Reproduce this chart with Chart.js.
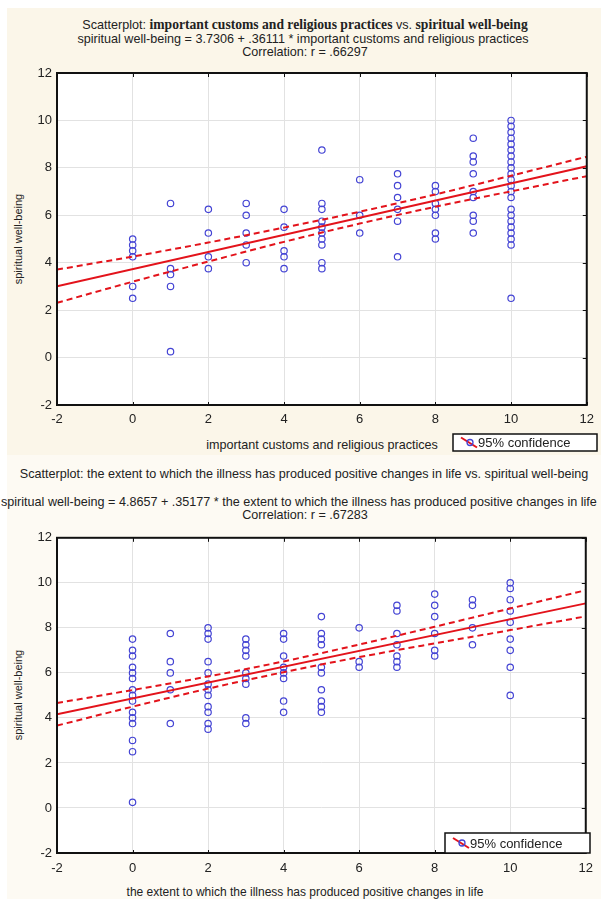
<!DOCTYPE html>
<html>
<head>
<meta charset="utf-8">
<script src="https://cdn.jsdelivr.net/npm/chart.js@4"></script>
<style>
  body { margin: 0; background: #fff; }
  #page { position: relative; width: 601px; height: 899px; overflow: hidden; }
  .bg { position: absolute; }
  .t { position: absolute; transform: translate(-50%, -50%); white-space: nowrap;
       font: 12.6px "Liberation Sans", Arial, sans-serif; color: #222; }
  .b { font-family: "Liberation Serif", "Times New Roman", serif; font-weight: bold; font-size: 13.6px; }
  .yt { transform: translate(-50%, -50%) rotate(-90deg); font-size: 11px; }
  canvas { position: absolute; left: 0; }
</style>
</head>
<body>
<div id="page">
  <div class="bg" style="left:7px;top:8px;width:594px;height:447px;background:#fbf6e9"></div>
  <div class="bg" style="left:7px;top:455px;width:594px;height:444px;background:#fdfaf3"></div>

  <div class="t" style="left:305px;top:25px">Scatterplot: <span class="b">important customs and religious practices</span> vs. <span class="b">spiritual well-being</span></div>
  <div class="t" style="left:303px;top:39px">spiritual well-being = 3.7306 + .36111 * important customs and religious practices</div>
  <div class="t" style="left:305px;top:52px">Correlation: r = .66297</div>
  <div class="t yt" style="left:18px;top:239px">spiritual well-being</div>
  <div class="t" style="left:322px;top:445px">important customs and religious practices</div>

  <div class="t" style="left:304px;top:474px">Scatterplot: the extent to which the illness has produced positive changes in life vs. spiritual well-being</div>
  <div class="t" style="left:1px;top:502px;transform:translate(0,-50%)">spiritual well-being = 4.8657 + .35177 * the extent to which the illness has produced positive changes in life</div>
  <div class="t" style="left:305px;top:515px">Correlation: r = .67283</div>
  <div class="t yt" style="left:18px;top:695px">spiritual well-being</div>
  <div class="t" style="left:305px;top:892px;font-size:12px">the extent to which the illness has produced positive changes in life</div>

  <canvas id="topChart" width="601" height="395" style="top:60px"></canvas>
  <canvas id="bottomChart" width="601" height="360" style="top:525px"></canvas>
</div>

<script>
// --- Data: important customs and religious practices ---
const topColumns = [0, 1, 2, 3, 4, 5, 6, 7, 8, 9, 10];
const topValues = [
  [5, 4.75, 4.5, 4.25, 3, 2.5],
  [6.5, 3.75, 3.5, 3, 0.25],
  [6.25, 5.25, 4.25, 3.75],
  [6.5, 6, 5.25, 4.75, 4],
  [6.25, 5.5, 4.5, 4.25, 3.75],
  [8.75, 6.5, 6.25, 5.75, 5.5, 5.25, 5, 4.75, 4, 3.75],
  [7.5, 6, 5.25],
  [7.75, 7.25, 6.75, 6.25, 5.75, 4.25],
  [7.25, 7, 6.5, 6.25, 6, 5.25, 5],
  [9.25, 8.5, 8.25, 7.75, 7, 6.75, 6, 5.75, 5.25],
  [10, 9.75, 9.5, 9.25, 9, 8.75, 8.5, 8.25, 8, 7.75, 7.5, 7.25, 7, 6.75, 6.25, 6, 5.75, 5.5, 5.25, 5, 4.75, 2.5]
];
const topFitX = [-2, 12];
const topFitY = [3.0084, 8.0638];
const topBandX = [-2, 0, 2, 4, 6, 8, 10, 12];
const topBandUpper = [3.71, 4.26, 4.85, 5.48, 6.15, 6.88, 7.67, 8.47];
const topBandLower = [2.31, 3.20, 4.05, 4.88, 5.65, 6.36, 7.01, 7.65];

// --- Data: illness produced positive changes in life ---
const bottomColumns = [0, 1, 2, 3, 4, 5, 6, 7, 8, 9, 10];
const bottomValues = [
  [7.5, 7, 6.75, 6.25, 6, 5.75, 5.25, 5, 4.75, 4.25, 4, 3.75, 3, 2.5, 0.25],
  [7.75, 6.5, 6, 5.25, 3.75],
  [8, 7.75, 7.5, 6.5, 6, 5.5, 5.25, 5, 4.5, 4.25, 3.75, 3.5],
  [7.5, 7.25, 7, 6.75, 6, 5.75, 5.5, 4, 3.75],
  [7.75, 7.5, 6.75, 6.25, 6, 5.75, 4.75, 4.25],
  [8.5, 7.75, 7.5, 7.25, 6.25, 6, 5.25, 4.75, 4.5, 4.25],
  [8, 6.5, 6.25],
  [9, 8.75, 7.75, 7.25, 6.75, 6.5, 6.25],
  [9.5, 9, 8.5, 7.75, 7, 6.75],
  [9.25, 9, 8, 7.25],
  [10, 9.75, 9.25, 8.75, 8.25, 7.5, 7, 6.25, 5]
];
const bottomFitX = [-2, 12];
const bottomFitY = [4.1622, 9.0870];
const bottomBandX = [-2, 0, 2, 4, 6, 8, 10, 12];
const bottomBandUpper = [4.66, 5.24, 5.84, 6.51, 7.26, 8.05, 8.86, 9.67];
const bottomBandLower = [3.66, 4.50, 5.30, 6.03, 6.70, 7.31, 7.90, 8.51];

const legendLabel = '95% confidence';

const RED = '#e3131b';
const BLUE = '#4444d4';
const FONT = '"Liberation Sans", Arial, sans-serif';

function toPoints(xs, ys) {
  return xs.map((x, i) => ({ x: x, y: ys[i] }));
}

function columnPoints(cols, vals) {
  const pts = [];
  cols.forEach((c, i) => vals[i].forEach(v => pts.push({ x: c, y: v })));
  return pts;
}

// white plot area, black frame, inward ticks and the legend box
const framePlugin = {
  id: 'frame',
  beforeDraw(chart) {
    const { ctx, chartArea: a } = chart;
    ctx.save();
    ctx.fillStyle = '#fff';
    ctx.fillRect(a.left, a.top, a.right - a.left, a.bottom - a.top);
    ctx.restore();
  },
  afterDraw(chart, args, opts) {
    const { ctx, chartArea: a, scales } = chart;
    ctx.save();
    ctx.strokeStyle = '#111';
    ctx.lineWidth = 1;
    ctx.beginPath();
    scales.x.ticks.forEach(t => {
      const px = Math.round(scales.x.getPixelForValue(t.value)) + 0.5;
      ctx.moveTo(px, a.top); ctx.lineTo(px, a.top + 4);
      ctx.moveTo(px, a.bottom); ctx.lineTo(px, a.bottom - 3);
    });
    scales.y.ticks.forEach(t => {
      const py = Math.round(scales.y.getPixelForValue(t.value)) + 0.5;
      ctx.moveTo(a.right, py); ctx.lineTo(a.right - 4, py);
    });
    ctx.stroke();
    ctx.lineWidth = 2;
    ctx.strokeStyle = '#111';
    ctx.strokeRect(a.left, a.top, a.right - a.left, a.bottom - a.top);

    // legend
    const b = opts.box;
    ctx.fillStyle = '#fff';
    ctx.fillRect(b.x, b.y, b.w, b.h);
    ctx.lineWidth = 1.5;
    ctx.strokeRect(b.x, b.y, b.w, b.h);
    const ix = b.x + 8, iy = b.y + b.h / 2;
    ctx.strokeStyle = RED;
    ctx.lineWidth = 2;
    ctx.beginPath();
    ctx.moveTo(ix, iy - 5); ctx.lineTo(ix + 16, iy + 5);
    ctx.stroke();
    ctx.strokeStyle = BLUE;
    ctx.lineWidth = 1.3;
    ctx.beginPath();
    ctx.arc(ix + 9, iy, 3, 0, Math.PI * 2);
    ctx.stroke();
    ctx.fillStyle = '#222';
    ctx.font = '13px ' + FONT;
    ctx.textBaseline = 'middle';
    ctx.fillText(legendLabel, b.x + 25, iy + 1);
    ctx.restore();
  }
};

function makeChart(id, cols, vals, fitX, fitY, bandX, bandUp, bandLo, pad, axisH, tickPad, box) {
  const bandStyle = {
    type: 'line', showLine: true, pointRadius: 0, borderColor: RED, borderWidth: 2,
    borderDash: [6, 4], fill: false, cubicInterpolationMode: 'monotone'
  };
  return new Chart(document.getElementById(id), {
    type: 'scatter',
    data: {
      datasets: [
        { type: 'line', data: toPoints(fitX, fitY), showLine: true, pointRadius: 0,
          borderColor: RED, borderWidth: 2, fill: false, order: 0 },
        Object.assign({ data: toPoints(bandX, bandUp), order: 1 }, bandStyle),
        Object.assign({ data: toPoints(bandX, bandLo), order: 1 }, bandStyle),
        { data: columnPoints(cols, vals), pointStyle: 'circle', pointRadius: 3.2,
          pointBorderWidth: 1.2, pointBorderColor: BLUE, pointBackgroundColor: 'rgba(0,0,0,0)',
          order: 2 }
      ]
    },
    options: {
      responsive: false,
      animation: false,
      devicePixelRatio: 1,
      layout: { padding: pad },
      plugins: { legend: { display: false }, tooltip: { enabled: false }, frame: { box: box } },
      scales: {
        x: {
          type: 'linear', min: -2, max: 12,
          afterFit: s => { s.height = axisH; },
          ticks: { stepSize: 2, padding: tickPad, color: '#222', font: { family: FONT, size: 13 } },
          grid: { color: '#e2e2e2', drawTicks: false },
          border: { display: false }
        },
        y: {
          type: 'linear', min: -2, max: 12,
          afterFit: s => { s.width = 57; },
          ticks: { stepSize: 2, padding: 5, color: '#222', font: { family: FONT, size: 13 } },
          grid: { color: '#e2e2e2', drawTicks: false },
          border: { display: false }
        }
      }
    },
    plugins: [framePlugin]
  });
}

makeChart('topChart', topColumns, topValues, topFitX, topFitY,
  topBandX, topBandUpper, topBandLower,
  { top: 13, right: 11, left: 0, bottom: 0 }, 50, 7,
  { x: 453, y: 374, w: 144, h: 17 });

makeChart('bottomChart', bottomColumns, bottomValues, bottomFitX, bottomFitY,
  bottomBandX, bottomBandUpper, bottomBandLower,
  { top: 12, right: 10, left: 0, bottom: 0 }, 32, 8,
  { x: 445, y: 308, w: 145, h: 20 });
</script>
</body>
</html>
